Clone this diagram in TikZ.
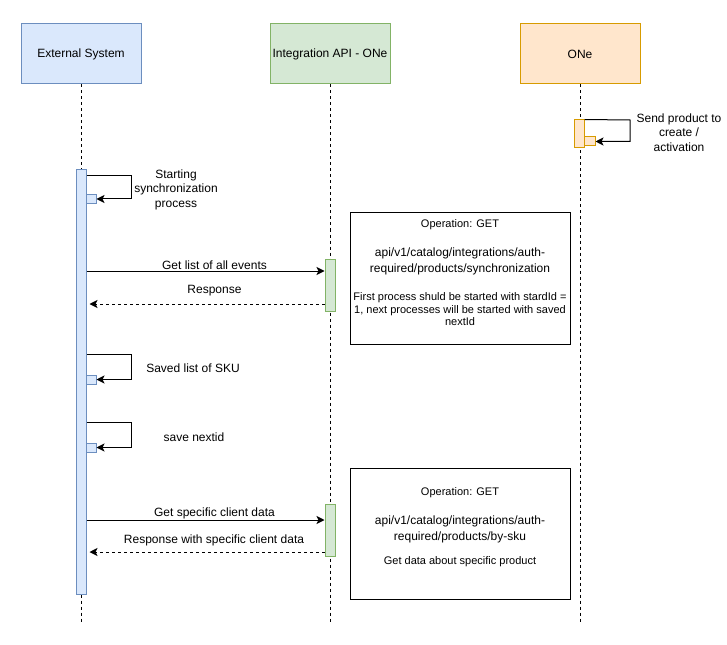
\documentclass[tikz,border=0pt]{standalone}
\usepackage{fontspec}
\setmainfont{Liberation Sans}
\usetikzlibrary{arrows.meta}

\definecolor{extFill}{HTML}{DAE8FC}
\definecolor{extLine}{HTML}{6C8EBF}
\definecolor{apiFill}{HTML}{D5E8D4}
\definecolor{apiLine}{HTML}{82B366}
\definecolor{oneFill}{HTML}{FFE6CC}
\definecolor{oneLine}{HTML}{D79B00}

\tikzset{every picture/.style={line width=0.75pt}}
\tikzset{
	head/.style={draw, minimum width=90pt, minimum height=45pt, inner sep=0pt, font=\fontsize{9}{10.8}\selectfont},
	lifeline/.style={dash pattern=on 2.25pt off 2.25pt},
	bar/.style={draw, minimum width=7.5pt, inner sep=0pt},
	subbar/.style={draw, minimum width=7.5pt, minimum height=6.75pt, inner sep=0pt},
	msg/.style={-{Stealth[length=6pt,width=6pt,inset=1.5pt]}},
	reply/.style={msg, dash pattern=on 2.25pt off 2.25pt, shorten >=2.25pt},
	lbl/.style={align=center, inner sep=0pt, font=\fontsize{9}{10.8}\selectfont},
	note/.style={draw, minimum width=165pt, minimum height=98.25pt, inner sep=0pt},
	noteText/.style={align=center, inner sep=0pt, font=\fontsize{8.25}{9.4}\selectfont},
	apiText/.style={align=center, inner sep=0pt, font=\fontsize{9}{12}\selectfont}
}

\begin{document}
\begin{tikzpicture}[x=0.75pt,y=0.75pt,yscale=-1,xscale=1]
	\useasboundingbox (0,0) rectangle (727,645);
	
	%Shape: Headers
	\node[head, fill=extFill, draw=extLine] (ext) at (81,54) {External System};
	\node[head, fill=apiFill, draw=apiLine] (api) at (330,54) {Integration API - ONe};
	\node[head, fill=oneFill, draw=oneLine] (one) at (580,54) {ONe};
	
	%Lifelines
	\coordinate (extEnd) at (81,624);
	\coordinate (apiEnd) at (330,622);
	\coordinate (oneEnd) at (580,622);
	\draw[lifeline] (ext) -- (extEnd);
	\draw[lifeline] (api) -- (apiEnd);
	\draw[lifeline] (one) -- (oneEnd);
	
	%Shape: Activation bars
	\node[bar, fill=extFill, draw=extLine, minimum height=318pt] (extBar) at (81,382) {};
	\node[bar, fill=apiFill, draw=apiLine, minimum height=39pt] (listBar) at (330,285) {};
	\node[bar, fill=apiFill, draw=apiLine, minimum height=39pt] (skuBar) at (330,530) {};
	\node[bar, fill=oneFill, draw=oneLine, minimum height=21pt] (oneBar) at (579,134) {};
	
	%Shape: Self calls
	\node[subbar, fill=extFill, draw=extLine] (sync) at (91,199) {};
	\node[subbar, fill=extFill, draw=extLine] (skuSave) at (91,379.5) {};
	\node[subbar, fill=extFill, draw=extLine] (idSave) at (91,447.5) {};
	\node[subbar, fill=oneFill, draw=oneLine, minimum width=8.25pt] (oneSub) at (589.5,141.5) {};
	
	\draw[msg] (extBar.east |- 0,176) -- (131,176) |- (sync.east);
	\draw[msg] (extBar.east |- 0,354) -- (131,354) |- (skuSave.east);
	\draw[msg] (extBar.east |- 0,422) -- (131,422) |- (idSave.east);
	\draw[msg] (oneBar.north east) -- (630,120) |- (oneSub.east);
	
	%Messages
	\draw[msg] (extBar.east |- 0,271) -- (listBar.west |- 0,271);
	\draw[reply] (listBar.west |- 0,304) -- (extBar.east |- 0,304);
	\draw[msg] (extBar.east |- 0,520) -- (skuBar.west |- 0,520);
	\draw[reply] (skuBar.west |- 0,552) -- (extBar.east |- 0,552);
	
	% Text Node
	\node[lbl] (syncLbl) at (176,189.5) {Starting\\synchronization\\process};
	\node[lbl] (listLbl) at (214.5,265) {Get list of all events};
	\node[lbl] (listRespLbl) at (214.5,290.5) {Response};
	\node[lbl] (skuLbl) at (193,368.5) {Saved list of SKU};
	\node[lbl] (idLbl) at (194,437) {save nextid};
	\node[lbl] (skuGetLbl) at (214.5,513) {Get specific client data};
	\node[lbl] (skuRespLbl) at (214,540) {Response with specific client data};
	\node[lbl] (sendLbl) at (679,132.5) {Send product to\\create /\\activation};
	
	%Shape: Notes
	\node[note] (syncNote) at (460,278.5) {};
	\node[noteText] (syncOp) at (460,225) {Operation: GET};
	\node[apiText] (syncPath) at (460,261) {api/v1/catalog/integrations/auth-\\required/products/synchronization};
	\node[noteText] (syncHint) at (460,309.5) {First process shuld be started with stardId =\\1, next processes will be started with saved\\nextId};
	
	\node[note] (skuNote) at (460,533.5) {};
	\node[noteText] (skuOp) at (460,493) {Operation: GET};
	\node[apiText] (skuPath) at (460,529) {api/v1/catalog/integrations/auth-\\required/products/by-sku};
	\node[noteText] (skuHint) at (460,562) {Get data about specific product};
	
\end{tikzpicture}
\end{document}
